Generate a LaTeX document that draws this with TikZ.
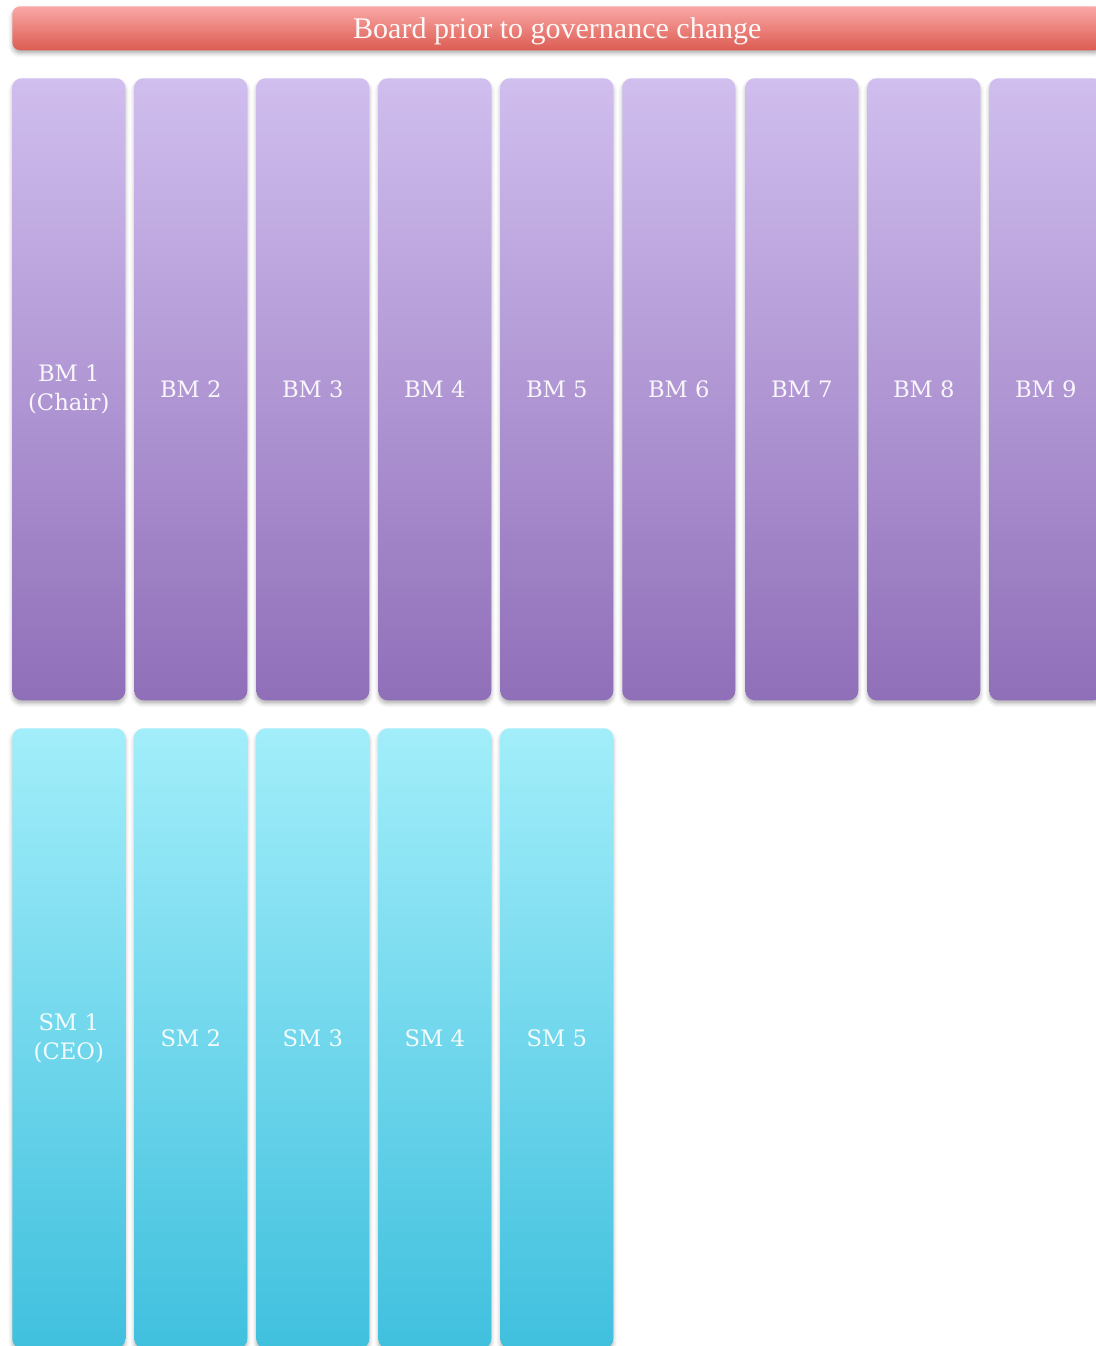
\documentclass[tikz,border=0pt]{standalone}
\usepackage{fontspec}
\setmainfont{DejaVu Serif}
\newfontfamily\titlefont{Liberation Serif}
\usetikzlibrary{shadows.blur}
\definecolor{bmtop}{RGB}{208,190,238}
\definecolor{bmbot}{RGB}{144,111,185}
\definecolor{smtop}{RGB}{162,238,250}
\definecolor{smbot}{RGB}{64,192,222}
\definecolor{tttop}{RGB}{250,168,166}
\definecolor{ttbot}{RGB}{220,92,82}
\tikzset{
  colbox/.style={rectangle, rounded corners=7pt, anchor=north west,
    minimum width=84.75pt, minimum height=#1, inner sep=0pt,
    blur shadow={shadow xshift=0pt, shadow yshift=-2.5pt, shadow blur radius=3pt, shadow opacity=30},
    text=white, text opacity=0.92, font=\fontsize{17}{21.5}\selectfont, align=center},
  bmbox/.style={colbox=466.5pt, top color=bmtop, bottom color=bmbot},
  smbox/.style={colbox=465pt, top color=smtop, bottom color=smbot},
  titlebar/.style={rectangle, rounded corners=6pt, anchor=north west,
    minimum width=817.5pt, minimum height=33pt, inner sep=0pt,
    top color=tttop, bottom color=ttbot,
    blur shadow={shadow xshift=0pt, shadow yshift=-2.5pt, shadow blur radius=3pt, shadow opacity=30}},
  titletext/.style={inner sep=0pt, text=white, text opacity=0.95,
    font=\titlefont\fontsize{22.5}{26}\selectfont}
}
\begin{document}
\begin{tikzpicture}[x=0.75pt,y=-0.75pt]
\useasboundingbox (0,0) rectangle (1096,1346);
\clip (0,0) rectangle (1096,1346);
\node[titlebar] (title) at (12,6) {};
\node[titletext] (titlelabel) at ([yshift=-2.5pt]title.center) {Board prior to governance change};
\node[bmbox] (bm1) at (12,78) {BM 1\\(Chair)};
\node[bmbox] (bm2) at (134,78) {BM 2};
\node[bmbox] (bm3) at (256,78) {BM 3};
\node[bmbox] (bm4) at (378,78) {BM 4};
\node[bmbox] (bm5) at (500,78) {BM 5};
\node[bmbox] (bm6) at (622,78) {BM 6};
\node[bmbox] (bm7) at (745,78) {BM 7};
\node[bmbox] (bm8) at (867,78) {BM 8};
\node[bmbox] (bm9) at (989,78) {BM 9};
\node[smbox] (sm1) at (12,728) {SM 1\\(CEO)};
\node[smbox] (sm2) at (134,728) {SM 2};
\node[smbox] (sm3) at (256,728) {SM 3};
\node[smbox] (sm4) at (378,728) {SM 4};
\node[smbox] (sm5) at (500,728) {SM 5};
\end{tikzpicture}
\end{document}
